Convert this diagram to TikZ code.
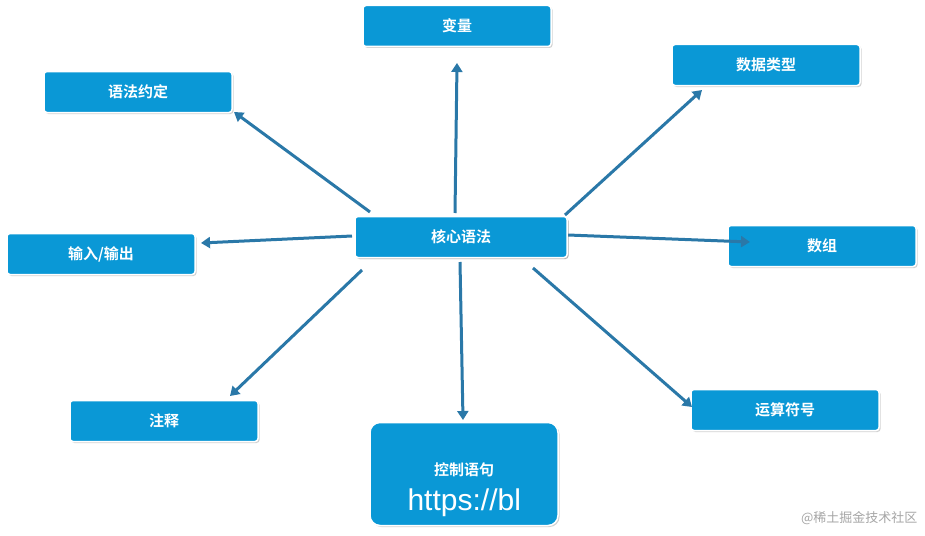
\documentclass[tikz,border=0pt]{standalone}
\usepackage{fontspec}
\newfontfamily\cjk{Noto Sans CJK SC}[BoldFont={Noto Sans CJK SC Bold}]
\setsansfont{Liberation Sans}
\usetikzlibrary{arrows.meta,shadows}
\definecolor{boxblue}{HTML}{0A98D6}
\definecolor{arrowblue}{HTML}{2A78A8}
\tikzset{
  box/.style={rectangle,rounded corners=3pt,fill=boxblue,draw=white,line width=1.5pt,
    minimum width=188pt,minimum height=41pt,text=white,font=\cjk\bfseries\fontsize{15}{18}\selectfont,
    drop shadow={shadow xshift=1.5pt,shadow yshift=-1.5pt,opacity=0.35}},
  conn/.style={draw=arrowblue,line width=3pt,-{Triangle[length=9pt,width=11pt]}},
}
\begin{document}
\begin{tikzpicture}[x=1pt,y=-1pt]
\useasboundingbox (0,0) rectangle (925,535);
\fill[white] (0,0) rectangle (925,535);
\node[box] (var) at (457,26) {变量};
\node[box] (conv) at (138,92) {语法约定};
\node[box] (dtype) at (766,65) {数据类型};
\node[box,minimum width=212pt] (core) at (461,237) {核心语法};
\node[box] (io) at (101,254) {输入/输出};
\node[box] (arr) at (822,246) {数组};
\node[box] (cmt) at (164,421) {注释};
\node[box] (op) at (785,410) {运算符号};
\node[box,minimum height=103pt,rounded corners=10pt] (ctrl) at (464,474) {};
\node[text=white,font=\cjk\bfseries\fontsize{15}{18}\selectfont] (ctrlt) at (464,470) {控制语句};
\node[text=white,font=\sffamily\fontsize{30}{34}\selectfont,anchor=west] (url) at (404,503) {https://bl};
\node[text=gray!70,font=\cjk\fontsize{13}{15}\selectfont,anchor=east] (wm) at (921,518) {@稀土掘金技术社区};
\coordinate (a1) at (455,213); \coordinate (b1) at (457,63);
\coordinate (a2) at (370,212); \coordinate (b2) at (234,112);
\coordinate (a3) at (565,215); \coordinate (b3) at (702,90);
\coordinate (a4) at (352,236); \coordinate (b4) at (201,243);
\coordinate (a5) at (568,235); \coordinate (b5) at (750,242);
\coordinate (a6) at (362,270); \coordinate (b6) at (230,396);
\coordinate (a7) at (460,262); \coordinate (b7) at (463,420);
\coordinate (a8) at (533,268); \coordinate (b8) at (692,407);
\foreach \i in {1,...,8} \draw[conn] (a\i) -- (b\i);
\node[box,minimum width=212pt] at (core) {核心语法};
\end{tikzpicture}
\end{document}
